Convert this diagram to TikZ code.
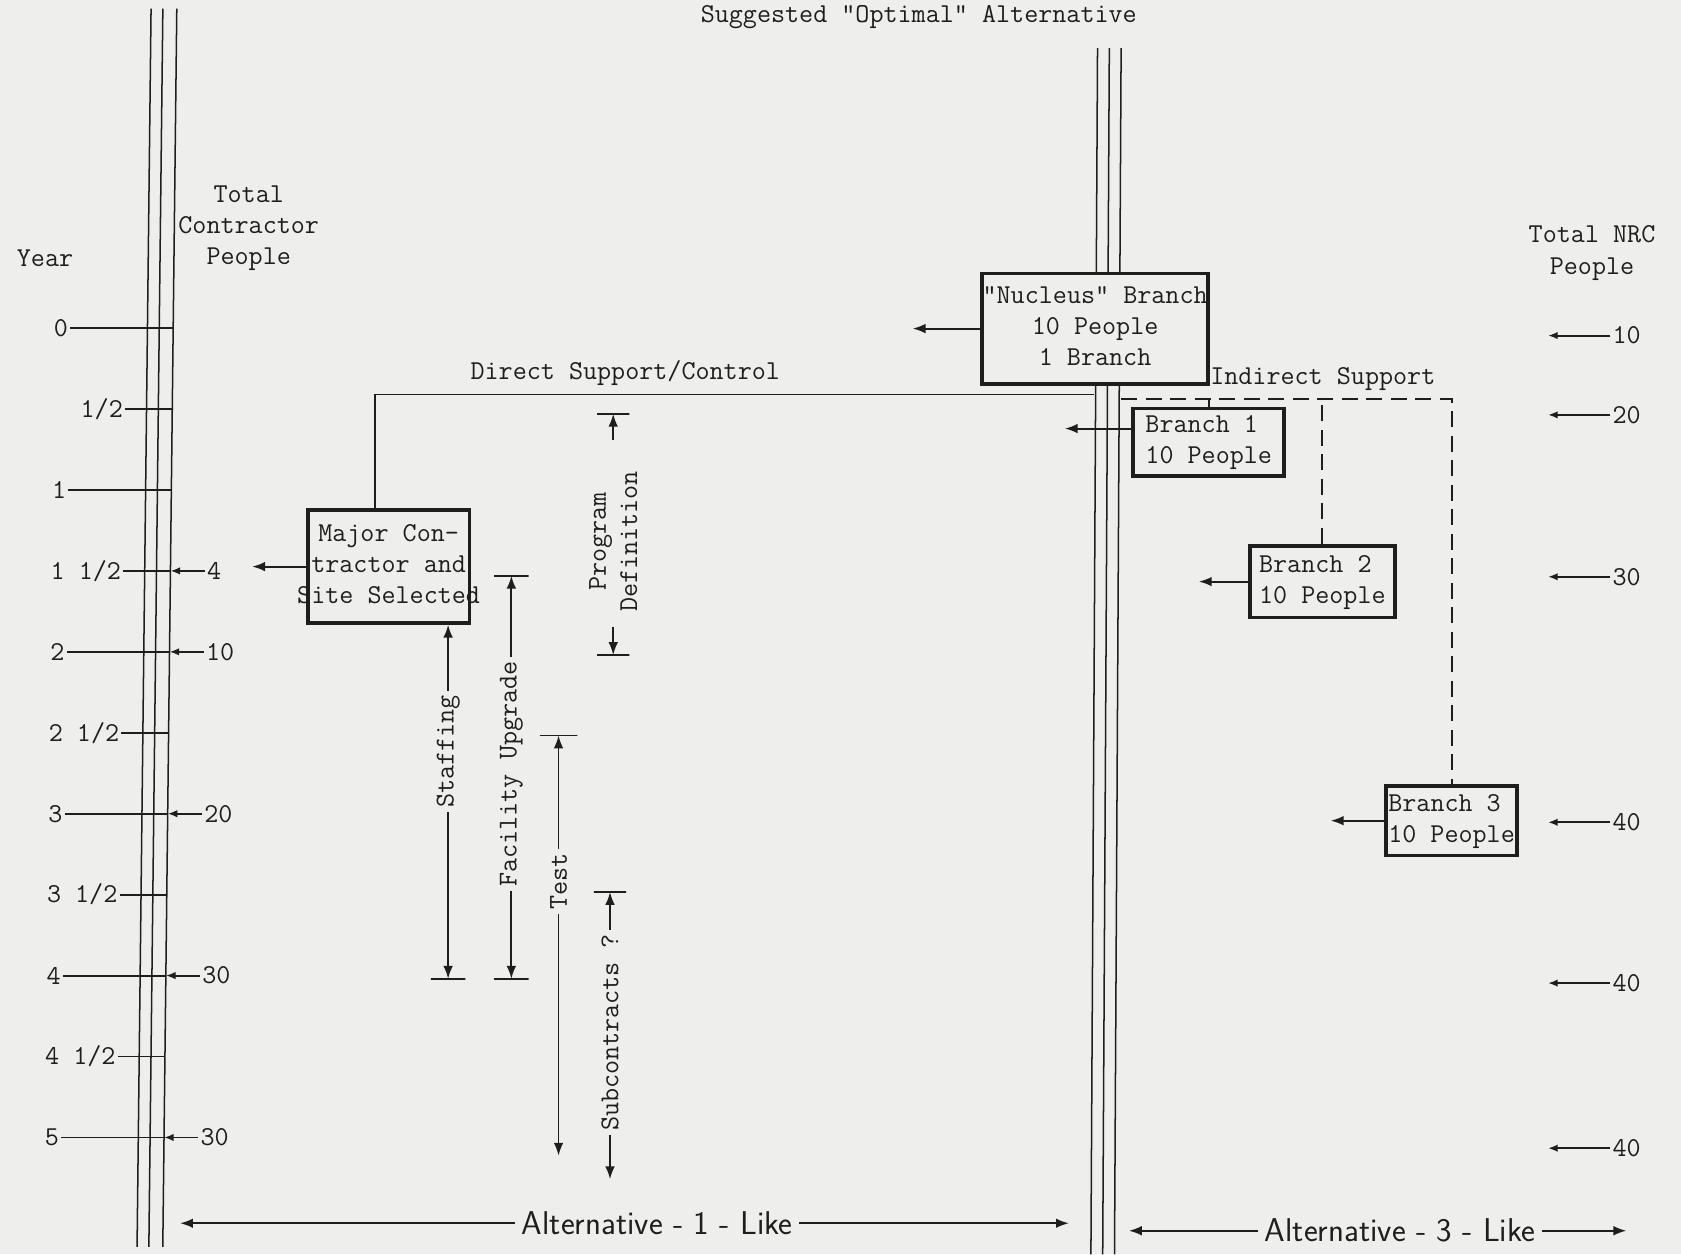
\documentclass[tikz,border=0pt]{standalone}
\usetikzlibrary{arrows.meta,positioning,calc}
\definecolor{paper}{RGB}{238,238,236}
\definecolor{ink}{RGB}{30,30,30}
\newcommand{\boxtext}[2]{\makebox[0pt]{\begin{tabular}{@{}#1@{}}#2\end{tabular}}}

\begin{document}
\begin{tikzpicture}[x=0.02cm, y=-0.02cm, color=ink,
    font=\ttfamily\fontsize{14.5}{16.5}\selectfont,
    box/.style={draw, line width=2pt, inner sep=0pt},
    arr/.style={-{Latex[length=2.4mm, width=1.8mm]}, line width=1pt},
    arrs/.style={-{Latex[length=1.8mm, width=1.4mm]}, line width=1pt},
    rail/.style={line width=0.8pt},
    ind/.style={line width=1.1pt, dash pattern=on 8.5pt off 4.5pt},
    tbar/.style={draw, line width=1pt, minimum height=0pt, inner sep=0pt, outer sep=0pt},
    dim/.style={rotate=90, inner sep=2pt},
    lbl/.style={inner sep=1pt},
    alt/.style={font=\sffamily\fontsize{17.5}{20}\selectfont}
  ]
  \useasboundingbox (0,0) rectangle (1568,1170);
  \fill[paper] (0,0) rectangle (1568,1170);

  % headings
  \node (title) at (857,16) {Suggested "Optimal" Alternative};
  \node (year) at (42,241) {Year};
  \node[align=center] (ctot) at (232,213) {Total\\Contractor\\People};
  \node[align=center] (ntot) at (1485,236) {Total NRC\\People};

  % contractor time line
  \begin{scope}[xslant=0.0113]
    \foreach \xr in {141,152,165}
      \draw[rail] (\xr,8) -- (\xr,1163);
    \foreach \k/\xs/\yr in {0/71/0, 1/123/{1/2}, 2/71/1, 3/123/{1 1/2}, 4/71/2,
        5/123/{2 1/2}, 6/71/3, 7/123/{3 1/2}, 8/71/4, 9/123/{4 1/2}, 10/71/5} {
      \node[lbl, anchor=east] (y\k) at (\xs-2, 306+75.5*\k) {\yr};
      \coordinate (r\k) at (165, 306+75.5*\k);
      \draw[line width=1pt] (y\k.east) -- (r\k);
    }
    \foreach \k/\n in {3/4, 4/10, 6/20, 8/30, 10/30} {
      \node[lbl, anchor=west] (c\k) at (197, 306+75.5*\k) {\n};
      \draw[arrs] (c\k.west) -- (r\k);
    }
  \end{scope}

  % NRC time line
  \begin{scope}[xslant=0.0055]
    \foreach \xr in {1024,1035,1046} {
      \draw[rail] (\xr,45) -- (\xr,255);
      \draw[rail] (\xr,358) -- (\xr,1170);
    }
  \end{scope}

  % branches
  \node[box, minimum width=4.22cm, minimum height=2.06cm] (nuc) at (1021.5,306.5)
    {\boxtext{c}{"Nucleus" Branch\\10 People\\1 Branch}};
  \node[box, minimum width=2.82cm, minimum height=1.26cm] (br1) at (1127.5,412.5)
    {\boxtext{l}{Branch 1\\10 People}};
  \node[box, minimum width=2.70cm, minimum height=1.34cm] (br2) at (1233.5,542.5)
    {\boxtext{l}{Branch 2\\10 People}};
  \node[box, minimum width=2.44cm, minimum height=1.30cm] (br3) at (1354,765.5)
    {\boxtext{l}{Branch 3\\10 People}};
  \node[box, minimum width=3.02cm, minimum height=2.10cm] (major) at (362.5,528.5)
    {\boxtext{c}{Major Con-\\tractor and\\Site Selected}};

  \coordinate[left=1.26cm of nuc.west] (nucout);
  \coordinate[left=1.24cm of br1.170] (b1out);
  \coordinate[left=0.92cm of br2.west] (b2out);
  \coordinate[left=1.0cm of br3.west] (b3out);
  \coordinate[left=1.0cm of major.west] (majout);
  \draw[arr] (nuc.west) -- (nucout);
  \draw[arr] (br1.170) -- (b1out);
  \draw[arr] (br2.west) -- (b2out);
  \draw[arr] (br3.west) -- (b3out);
  \draw[arr] (major.west) -- (majout);

  % support lines
  \coordinate (dsL) at (1020,368);
  \coordinate (isR) at (1046,372);
  \draw[line width=1pt] ($(major.north west)!0.42!(major.north east)$) |-
    node[pos=0.674, above=3pt, lbl] {Direct Support/Control} (dsL);
  \draw[ind] (isR) -| node[pos=0.305, above=3pt, lbl] {Indirect Support} (br3.north);
  \draw[ind] (br2.north) -- (br2.north |- isR);
  \draw[line width=1pt] (br1.north) -- (br1.north |- isR);

  % program phases
  \node[dim, align=center] (pd) at (572,505) {Program\\Definition};
  \node[tbar, minimum width=0.6cm] (pdtop) at (572,386) {};
  \node[tbar, minimum width=0.6cm] (pdbot) at (572,611) {};
  \draw[arr, shorten <=0.5cm] (pd.east) -- (pdtop);
  \draw[arr, shorten <=0.2cm] (pd.west) -- (pdbot);

  \node[dim] (stf) at (418,701) {Staffing};
  \node[tbar, minimum width=0.64cm] (stfbot) at (418,913) {};
  \draw[arr] (stf.east) -- (stf.east |- major.south);
  \draw[arr] (stf.west) -- (stfbot);

  \node[dim] (fac) at (477,722) {Facility Upgrade};
  \node[tbar, minimum width=0.64cm] (factop) at (477,537) {};
  \node[tbar, minimum width=0.64cm] (facbot) at (477,913) {};
  \draw[arr] (fac.east) -- (factop);
  \draw[arr] (fac.west) -- (facbot);

  \node[dim] (tst) at (521,822) {Test};
  \node[tbar, minimum width=0.7cm] (tsttop) at (521,686) {};
  \coordinate (tstend) at (521,1078);
  \draw[arr] (tst.east) -- (tsttop);
  \draw[arr] (tst.west) -- (tstend);

  \node[dim] (sub) at (569,963) {Subcontracts ?};
  \node[tbar, minimum width=0.6cm] (subtop) at (569,832) {};
  \coordinate (subend) at (569,1100);
  \draw[arr] (sub.east) -- (subtop);
  \draw[arr] (sub.west) -- (subend);

  % NRC head count
  \foreach \n/\yy [count=\i] in {10/313, 20/387, 30/538, 40/767, 40/917, 40/1071} {
    \node[lbl, anchor=west] (n\i) at (1502,\yy) {\n};
    \coordinate (nt\i) at (1444,\yy);
    \draw[arrs] (n\i.west) -- (nt\i);
  }

  % alternatives
  \node[alt] (alt1) at (613,1141) {Alternative - 1 - Like};
  \coordinate (alt1l) at (168,1141);
  \coordinate (alt1r) at (997,1141);
  \draw[arr] (alt1.west) -- (alt1l);
  \draw[arr] (alt1.east) -- (alt1r);
  \node[alt] (alt3) at (1306,1148) {Alternative - 3 - Like};
  \coordinate (alt3l) at (1053,1148);
  \coordinate (alt3r) at (1517,1148);
  \draw[arr] (alt3.west) -- (alt3l);
  \draw[arr] (alt3.east) -- (alt3r);
\end{tikzpicture}
\end{document}
